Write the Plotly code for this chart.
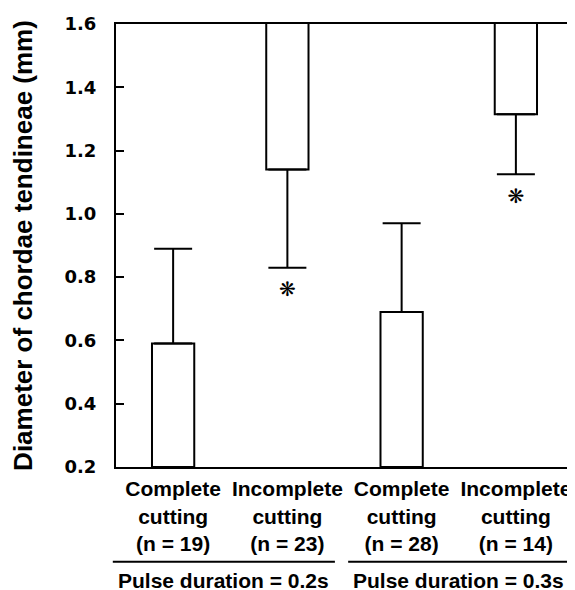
import plotly.graph_objects as go

categories = ["Complete<br>cutting<br>(n = 19)", "Incomplete<br>cutting<br>(n = 23)",
              "Complete<br>cutting<br>(n = 28)", "Incomplete<br>cutting<br>(n = 14)"]
means = [0.59, 1.14, 0.69, 1.315]
sds = [0.30, 0.31, 0.28, 0.19]
hanging = [False, True, False, True]
significant = [False, True, False, True]
group_labels = ["Pulse duration = 0.2s", "Pulse duration = 0.3s"]
y_ticks = [0.2, 0.4, 0.6, 0.8, 1.0, 1.2, 1.4, 1.6]

y_min, y_max = 0.2, 1.6
top_base = 1.7

bases = [top_base if h else y_min for h in hanging]
sizes = [m - b for m, b in zip(means, bases)]
err_plus = [0 if h else s for h, s in zip(hanging, sds)]
err_minus = [s if h else 0 for h, s in zip(hanging, sds)]

fig = go.Figure()
fig.add_trace(go.Bar(
    x=categories, y=sizes, base=bases,
    width=0.37,
    marker=dict(color="white", line=dict(color="black", width=2)),
    error_y=dict(type="data", symmetric=False, array=err_plus, arrayminus=err_minus,
                 color="black", thickness=2, width=19),
    showlegend=False, hoverinfo="skip",
))

ast_x = [c for c, s in zip(categories, significant) if s]
ast_y = [m - sd - 0.075 for m, sd, s in zip(means, sds, significant) if s]
fig.add_trace(go.Scatter(
    x=ast_x, y=ast_y, mode="text", text=["❋"] * len(ast_x),
    textfont=dict(size=20, color="black", family="DejaVu Sans"),
    textposition="middle center", showlegend=False, hoverinfo="skip",
))

label_font = dict(family="Liberation Sans, Arial, sans-serif", size=21, color="black")

# the page body adds an 8px offset; the figure is sized to the visible area
fig.update_layout(
    width=567, height=582,
    margin=dict(l=108, r=2, t=16, b=123, autoexpand=False),
    plot_bgcolor="white", paper_bgcolor="white",
    xaxis=dict(
        type="category", range=[-0.5, 3.5], automargin=False,
        showline=True, linecolor="black", linewidth=2, mirror=True,
        ticks="", showgrid=False,
        tickfont=dict(family="Liberation Sans, Arial, sans-serif", size=21, color="black", weight="bold"),
        ticklabelstandoff=2,
    ),
    yaxis=dict(
        range=[y_min, y_max], tickvals=y_ticks, tickformat=".1f", automargin=False,
        showline=True, linecolor="black", linewidth=2, mirror=True,
        ticks="inside", ticklen=8, tickwidth=2, tickcolor="black",
        showgrid=False, zeroline=False,
        tickfont=dict(family="DejaVu Sans", size=18, color="black", weight="bold"),
        ticklabelstandoff=14,
        title=dict(text="<b>Diameter of chordae tendineae (mm)</b>",
                   font=dict(family="Liberation Sans, Arial, sans-serif", size=26, color="black"),
                   standoff=27),
    ),
)

# group separator lines and group labels
group_spans = [(-0.007, 0.479), (0.508, 0.993)]
for (x0, x1), lab in zip(group_spans, group_labels):
    fig.add_shape(type="line", xref="paper", yref="paper", x0=x0, x1=x1,
                  y0=-0.214, y1=-0.214, line=dict(color="black", width=2))
    fig.add_annotation(xref="paper", yref="paper", x=(x0 + x1) / 2, y=-0.257,
                       yanchor="middle", xanchor="center", showarrow=False,
                       text="<b>" + lab + "</b>", font=label_font)

fig.write_html("out.html")
